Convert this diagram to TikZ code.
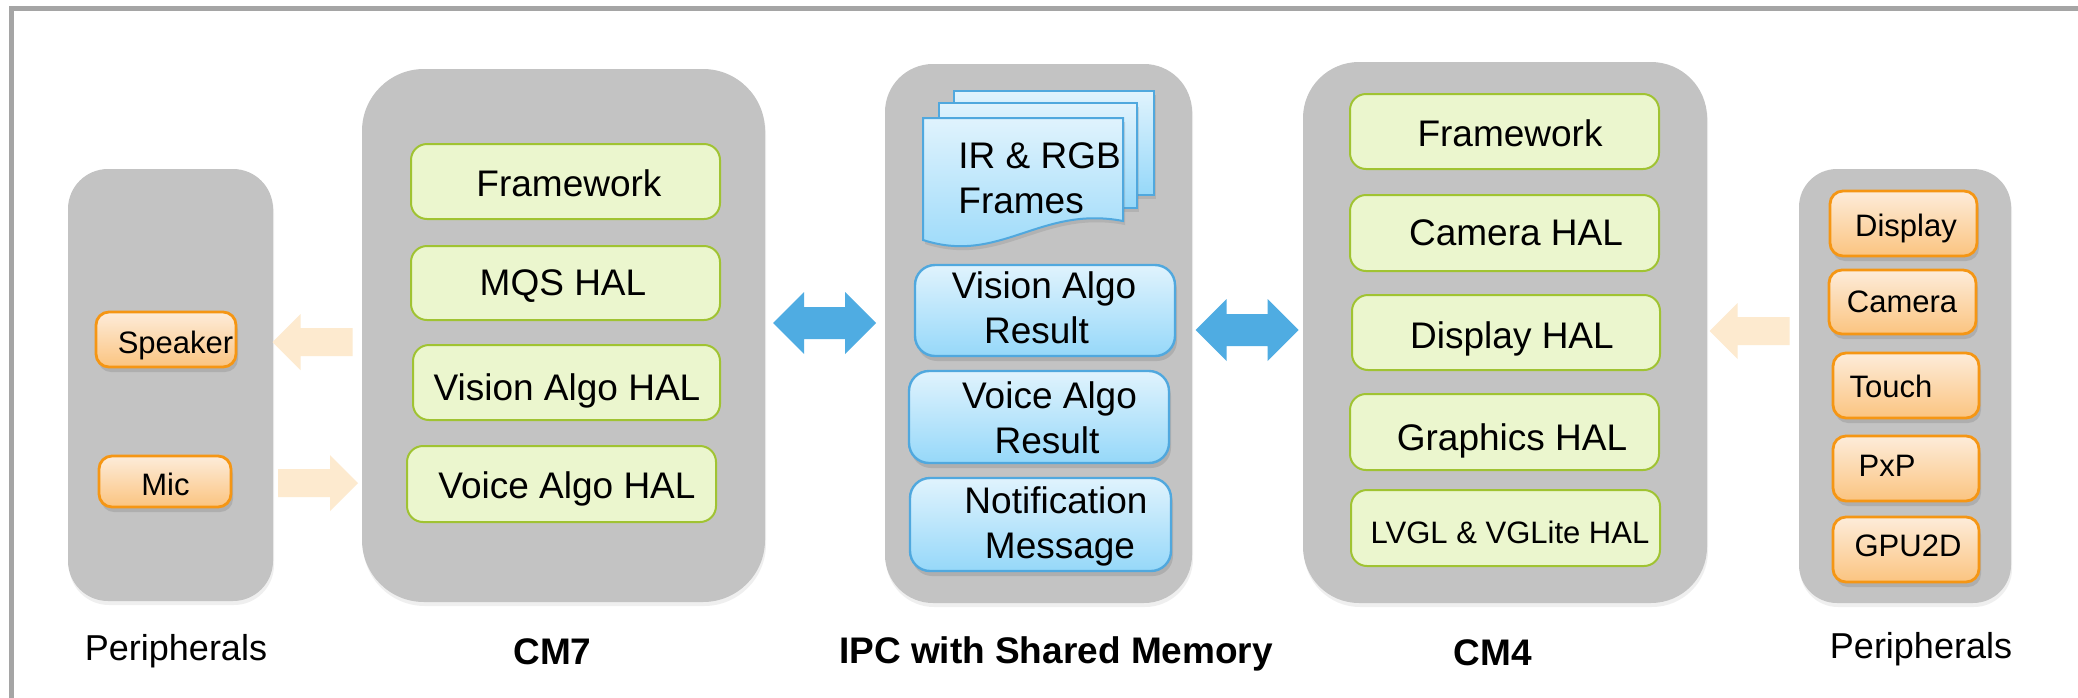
\documentclass[tikz,border=0pt]{standalone}
\usepackage{fontspec}
\setmainfont{Liberation Sans}
\usetikzlibrary{shadows,fit,calc}
\definecolor{panelgray}{RGB}{195,195,195}
\definecolor{framegray}{RGB}{165,165,165}
\definecolor{gfill}{RGB}{235,246,206}
\definecolor{gline}{RGB}{160,195,50}
\definecolor{btop}{RGB}{224,243,253}
\definecolor{bbot}{RGB}{150,216,249}
\definecolor{bline}{RGB}{80,168,222}
\definecolor{otop}{RGB}{253,236,218}
\definecolor{obot}{RGB}{251,196,128}
\definecolor{oline}{RGB}{245,150,20}
\definecolor{arrowblue}{RGB}{79,172,226}
\definecolor{peach}{RGB}{253,234,207}
\newcommand{\fsz}[1]{\fontsize{#1}{#1}\selectfont}
\begin{document}
\begin{tikzpicture}[x=0.5pt,y=-0.5pt,
  panel/.style={fill=panelgray, draw=none, inner sep=0pt, outer sep=0pt,
    drop shadow={shadow xshift=0.5pt, shadow yshift=-2pt, opacity=.12}},
  gbox/.style={fill=gfill, draw=gline, line width=1pt, rounded corners=8pt, inner sep=0pt},
  bbox/.style={top color=btop, bottom color=bbot, draw=bline, line width=1.2pt,
    rounded corners=10pt, inner sep=0pt,
    drop shadow={shadow xshift=1pt, shadow yshift=-2.5pt, opacity=.3}},
  obox/.style={top color=otop, bottom color=obot, draw=oline, line width=1.4pt,
    rounded corners=6.5pt, inner sep=0pt,
    drop shadow={shadow xshift=1pt, shadow yshift=-2.5pt, opacity=.3}},
  sheet/.style={top color=btop, bottom color=bbot, draw=bline, line width=1pt},
  txt/.style={inner sep=0pt, anchor=base, font=\fsz{18.5}},
  stxt/.style={inner sep=0pt, anchor=base, font=\fsz{15.5}},
  lbl/.style={inner sep=0pt, anchor=base, font=\fsz{18.5}\bfseries},
  plbl/.style={inner sep=0pt, anchor=base, font=\fsz{18}},
  dblarrow/.pic={\fill[arrowblue] (-51.5,0) -- (-20.5,-31) -- (-20.5,-16) -- (20.5,-16)
      -- (20.5,-31) -- (51.5,0) -- (20.5,31) -- (20.5,16) -- (-20.5,16) -- (-20.5,31) -- cycle;},
  sarrow/.pic={\fill[peach] (-40,-14) -- (12,-14) -- (12,-28) -- (40,0) -- (12,28)
      -- (12,14) -- (-40,14) -- cycle;}
]
\useasboundingbox (0,0) rectangle (2078,697);
\fill[white] (0,0) rectangle (2078,697);
% outer frame
\draw[framegray, line width=2.5pt] (11,720) -- (11,8.5) -- (2100,8.5);

% panels
\node[panel, rounded corners=20pt, fit={(68,169)(273,601)}] (lp) {};
\node[panel, rounded corners=31pt, fit={(362,69)(765,602)}] (cm7) {};
\node[panel, rounded corners=24pt, fit={(885,64)(1192,603)}] (ipc) {};
\node[panel, rounded corners=28pt, fit={(1303,62)(1707,603)}] (cm4) {};
\node[panel, rounded corners=19pt, fit={(1799,169)(2011,603)}] (rp) {};

% left peripherals
\node[obox, fit={(96,312)(236,367)}] (spk) {};
\node[stxt] (spkt) at (175.5,353) {Speaker};
\node[obox, fit={(99,456)(231,507)}] (mic) {};
\node[stxt] (mict) at (165.5,495) {Mic};

% CM7 boxes
\node[gbox, fit={(411,144)(720,219)}] (c7a) {};
\node[txt] (c7at) at (569,196) {Framework};
\node[gbox, fit={(411,246)(720,320)}] (c7b) {};
\node[txt] (c7bt) at (563,295) {MQS HAL};
\node[gbox, fit={(413,345)(720,420)}] (c7c) {};
\node[txt] (c7ct) at (567,400) {Vision Algo HAL};
\node[gbox, fit={(407,446)(716,522)}] (c7d) {};
\node[txt] (c7dt) at (567,498) {Voice Algo HAL};

% IPC: document stack
\path[sheet, drop shadow={shadow xshift=1pt, shadow yshift=-2pt, opacity=.25}]
  (954,91) rectangle (1154,195);
\path[sheet, drop shadow={shadow xshift=1pt, shadow yshift=-2pt, opacity=.25}]
  (939,103) rectangle (1137,208);
\path[sheet, drop shadow={shadow xshift=1pt, shadow yshift=-2pt, opacity=.25}]
  (923,118) -- (1123,118) -- (1123,221) .. controls (1040,205) and (1000,265) .. (923,240) -- cycle;
\node[txt, anchor=base west] (irt) at (958,168) {IR \& RGB};
\node[txt, anchor=base west] (frt) at (958,213) {Frames};

\node[bbox, fit={(915,265)(1175,356)}] (vres) {};
\node[txt] (vres1) at (1044,298) {Vision Algo};
\node[txt] (vres2) at (1036.5,343) {Result};
\node[bbox, fit={(909,371)(1169,463)}] (ares) {};
\node[txt] (ares1) at (1049.5,408) {Voice Algo};
\node[txt] (ares2) at (1047,453) {Result};
\node[bbox, fit={(910,478)(1171,571)}] (nmsg) {};
\node[txt] (nmsg1) at (1056,513) {Notification};
\node[txt] (nmsg2) at (1060,558) {Message};

% CM4 boxes
\node[gbox, fit={(1350,94)(1659,169)}] (c4a) {};
\node[txt] (c4at) at (1510,146) {Framework};
\node[gbox, fit={(1350,195)(1659,271)}] (c4b) {};
\node[txt] (c4bt) at (1516,245) {Camera HAL};
\node[gbox, fit={(1352,295)(1660,370)}] (c4c) {};
\node[txt] (c4ct) at (1512,348) {Display HAL};
\node[gbox, fit={(1350,394)(1659,470)}] (c4d) {};
\node[txt] (c4dt) at (1512,450) {Graphics HAL};
\node[gbox, fit={(1351,490)(1660,566)}] (c4e) {};
\node[stxt] (c4et) at (1510,543) {LVGL \& VGLite HAL};

% right peripherals
\node[obox, fit={(1830,191)(1977,256)}] (rdsp) {};
\node[stxt] (rdspt) at (1906,236) {Display};
\node[obox, fit={(1829,270)(1976,334)}] (rcam) {};
\node[stxt] (rcamt) at (1902,312) {Camera};
\node[obox, fit={(1833,353)(1979,418)}] (rtch) {};
\node[stxt] (rtcht) at (1891,397) {Touch};
\node[obox, fit={(1833,436)(1979,501)}] (rpxp) {};
\node[stxt] (rpxpt) at (1887,476) {PxP};
\node[obox, fit={(1833,517)(1979,582)}] (rgpu) {};
\node[stxt] (rgput) at (1908,556) {GPU2D};

% connectors (block arrows)
\coordinate (ab1) at (824.5,323);
\coordinate (ab2) at (1247,330);
\coordinate (as1) at (312.5,342);
\coordinate (as2) at (318,483);
\coordinate (as3) at (1749.5,331);
\pic at (ab1) {dblarrow};
\pic at (ab2) {dblarrow};
\pic[rotate=180] at (as1) {sarrow};
\pic at (as2) {sarrow};
\pic[rotate=180] at (as3) {sarrow};

% bottom labels
\node[plbl] (lpl) at (176,660) {Peripherals};
\node[lbl] (cm7l) at (552.5,664) {CM7};
\node[lbl] (ipcl) at (1056,663) {IPC with Shared Memory};
\node[lbl] (cm4l) at (1493,665) {CM4};
\node[plbl] (rpl) at (1921,658) {Peripherals};
\end{tikzpicture}
\end{document}
